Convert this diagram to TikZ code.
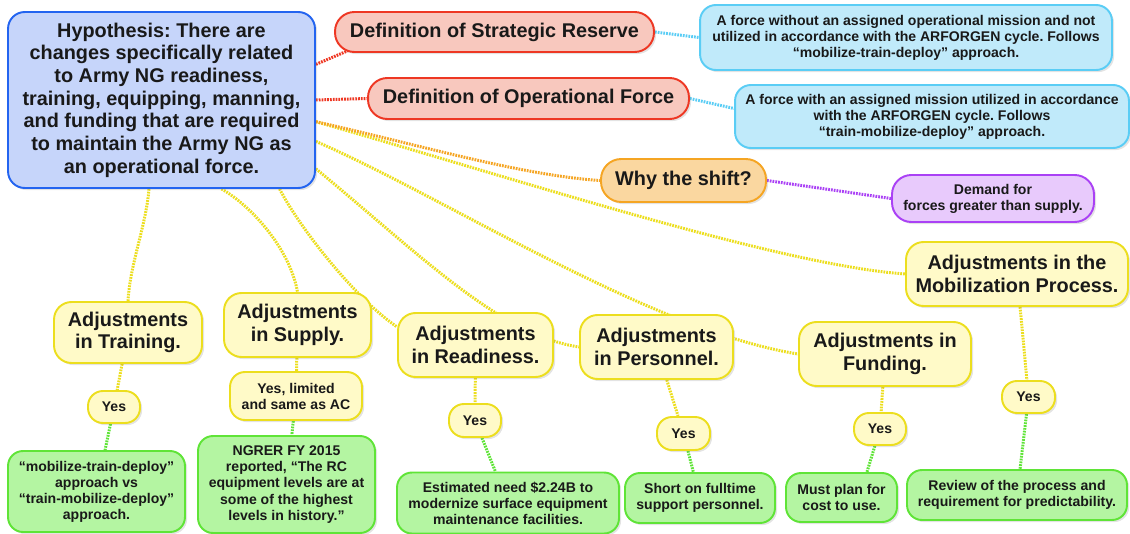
\documentclass[tikz,border=0pt]{standalone}
\usepackage{fontspec}
\setmainfont{Liberation Sans}
\usetikzlibrary{calc,shadows,backgrounds}
\frenchspacing

\definecolor{hypfill}{RGB}{198,213,250}
\definecolor{hypline}{RGB}{35,100,240}
\definecolor{deffill}{RGB}{248,200,190}
\definecolor{defline}{RGB}{238,55,35}
\definecolor{cyanfill}{RGB}{192,234,250}
\definecolor{cyanline}{RGB}{90,205,245}
\definecolor{whyfill}{RGB}{250,215,160}
\definecolor{whyline}{RGB}{245,165,35}
\definecolor{demfill}{RGB}{232,202,252}
\definecolor{demline}{RGB}{170,65,245}
\definecolor{adjfill}{RGB}{255,250,200}
\definecolor{adjline}{RGB}{236,222,30}
\definecolor{grnfill}{RGB}{180,245,162}
\definecolor{grnline}{RGB}{95,228,55}

\tikzset{
  box/.style={draw, line width=1.1pt, align=center, inner sep=2pt,
    text=black!90, font=\bfseries,
    drop shadow={shadow xshift=1.2pt, shadow yshift=-1.2pt, opacity=0.22}},
  bigtext/.style={font=\bfseries\fontsize{11.3}{12.9}\selectfont},
  smalltext/.style={font=\bfseries\fontsize{8}{9.1}\selectfont},
  hypo/.style={box, bigtext, fill=hypfill, draw=hypline, rounded corners=9.5pt},
  defbox/.style={box, bigtext, fill=deffill, draw=defline, rounded corners=11pt},
  infobox/.style={box, smalltext, fill=cyanfill, draw=cyanline, rounded corners=9pt},
  whybox/.style={box, bigtext, fill=whyfill, draw=whyline, rounded corners=11.5pt},
  dembox/.style={box, smalltext, fill=demfill, draw=demline, rounded corners=11pt},
  adjbox/.style={box, bigtext, fill=adjfill, draw=adjline, rounded corners=10pt},
  yesbox/.style={box, smalltext, fill=adjfill, draw=adjline, rounded corners=8.5pt},
  factbox/.style={box, smalltext, fill=grnfill, draw=grnline, rounded corners=8.5pt},
  link/.style={line width=1.7pt, dash pattern=on 1pt off 0.6pt},
  redlink/.style={link, draw=defline},
  cyanlink/.style={link, draw=cyanline},
  orangelink/.style={link, draw=whyline},
  purplelink/.style={link, draw=demline},
  yellowlink/.style={link, draw=adjline},
  greenlink/.style={link, draw=grnline}
}

\begin{document}
\begin{tikzpicture}[x=0.02cm, y=-0.02cm]
\useasboundingbox (0,0) rectangle (1130,534);

% main idea
\node[hypo, minimum width=6.14cm, minimum height=3.52cm] (hyp) at (161.5,100)
  {Hypothesis: There are\\changes specifically related\\to Army NG readiness,\\training, equipping, manning,\\and funding that are required\\to maintain the Army NG as\\an operational force.};

% definitions
\node[defbox, minimum width=6.38cm, minimum height=0.8cm] (defsr) at (494.5,32) {Definition of Strategic Reserve};
\node[defbox, minimum width=6.42cm, minimum height=0.82cm] (defof) at (528.5,98.5) {Definition of Operational Force};
\node[infobox, minimum width=8.24cm, minimum height=1.3cm] (sr) at (906,37.5)
  {A force without an assigned operational mission and not\\utilized in accordance with the ARFORGEN cycle. Follows\\“mobilize-train-deploy” approach.};
\node[infobox, minimum width=7.88cm, minimum height=1.26cm] (of) at (932,116.5)
  {A force with an assigned mission utilized in accordance\\with the ARFORGEN cycle. Follows\\“train-mobilize-deploy” approach.};

% why
\node[whybox, minimum width=3.3cm, minimum height=0.86cm] (why) at (683.5,180.5) {Why the shift?};
\node[dembox, minimum width=4.04cm, minimum height=0.94cm] (dem) at (993,198.5) {Demand for\\forces greater than supply.};

% adjustments
\node[adjbox, minimum width=4.44cm, minimum height=1.28cm] (mob) at (1017,274) {Adjustments in the\\Mobilization Process.};
\node[adjbox, minimum width=2.96cm, minimum height=1.22cm] (trn) at (128,332.5) {Adjustments\\in Training.};
\node[adjbox, minimum width=2.94cm, minimum height=1.28cm] (sup) at (297.5,325) {Adjustments\\in Supply.};
\node[adjbox, minimum width=3.1cm, minimum height=1.28cm] (rdy) at (475.5,345) {Adjustments\\in Readiness.};
\node[adjbox, minimum width=3.06cm, minimum height=1.28cm] (per) at (656.5,347) {Adjustments\\in Personnel.};
\node[adjbox, minimum width=3.44cm, minimum height=1.28cm] (fun) at (885,354) {Adjustments in\\Funding.};

% answers
\node[yesbox, minimum width=1.04cm, minimum height=0.64cm] (yestrn) at (114,407) {Yes};
\node[yesbox, minimum width=2.64cm, minimum height=0.96cm] (yessup) at (296,396) {Yes, limited\\and same as AC};
\node[yesbox, minimum width=1.04cm, minimum height=0.66cm] (yesrdy) at (475,420.5) {Yes};
\node[yesbox, minimum width=1.06cm, minimum height=0.66cm] (yesper) at (683.5,433.5) {Yes};
\node[yesbox, minimum width=1.04cm, minimum height=0.64cm] (yesfun) at (880,429) {Yes};
\node[yesbox, minimum width=1.06cm, minimum height=0.64cm] (yesmob) at (1028.5,397) {Yes};

% facts
\node[factbox, minimum width=3.54cm, minimum height=1.62cm] (grntrn) at (96.5,491.5)
  {“mobilize-train-deploy”\\approach vs\\“train-mobilize-deploy”\\approach.};
\node[factbox, minimum width=3.54cm, minimum height=1.94cm, font=\bfseries\fontsize{8}{9.35}\selectfont] (grnsup) at (286.5,484.5)
  {NGRER FY 2015\\reported, “The RC\\equipment levels are at\\some of the highest\\levels in history.”};
\node[factbox, minimum width=4.44cm, minimum height=1.22cm] (grnrdy) at (508,503)
  {Estimated need \$2.24B to\\modernize surface equipment\\maintenance facilities.};
\node[factbox, minimum width=3.0cm, minimum height=1.0cm] (grnper) at (700,498) {Short on fulltime\\support personnel.};
\node[factbox, minimum width=2.22cm, minimum height=0.98cm] (grnfun) at (841.5,497.5) {Must plan for\\cost to use.};
\node[factbox, minimum width=4.4cm, minimum height=1.0cm] (grnmob) at (1017,495) {Review of the process and\\requirement for predictability.};

\begin{pgfonlayer}{background}
% links from the hypothesis
\draw[redlink] (hyp.13.5) -- ($(defsr.south west)+(25,-7)$);
\draw[redlink] (hyp.east) -- (defof.west);
\draw[cyanlink] (defsr.east) -- (sr.west);
\draw[cyanlink] (defof.east) -- ($(of.west)+(0,-8)$);
\draw[yellowlink] (hyp.-8) .. controls +(203,58) and +(-126,-9) .. (mob.west);
\draw[orangelink] (hyp.-8) .. controls +(103,23) and +(-81,-5.5) .. (why.west);
\draw[purplelink] (why.east) -- (dem.west);
\draw[yellowlink] (hyp.-15.3) .. controls +(133,58) and +(-149,-24) .. (fun.west);
\draw[yellowlink] (hyp.-24.5) .. controls +(103,85) and +(-80,-12) .. (per.west);
\draw[yellowlink] (hyp.-37) .. controls +(22,42) and +(-40,-27) .. (rdy.167);
\draw[yellowlink] (hyp.-56.4) .. controls +(30,17) and +(-7.5,-43) .. (sup.north);
\draw[yellowlink] (hyp.-98.7) .. controls +(-3,37) and +(2,-37) .. (trn.north);
% answers and facts
\draw[yellowlink] (trn) -- (yestrn);
\draw[yellowlink] (sup) -- (yessup);
\draw[yellowlink] (rdy) -- (yesrdy);
\draw[yellowlink] (per) -- (yesper);
\draw[yellowlink] (fun) -- (yesfun);
\draw[yellowlink] (mob) -- (yesmob);
\draw[greenlink] (yestrn) -- (grntrn);
\draw[greenlink] (yessup) -- (grnsup);
\draw[greenlink] (yesrdy) -- (grnrdy);
\draw[greenlink] (yesper) -- (grnper);
\draw[greenlink] (yesfun) -- (grnfun.45);
\draw[greenlink] (yesmob) -- (grnmob);
\end{pgfonlayer}
\end{tikzpicture}
\end{document}
